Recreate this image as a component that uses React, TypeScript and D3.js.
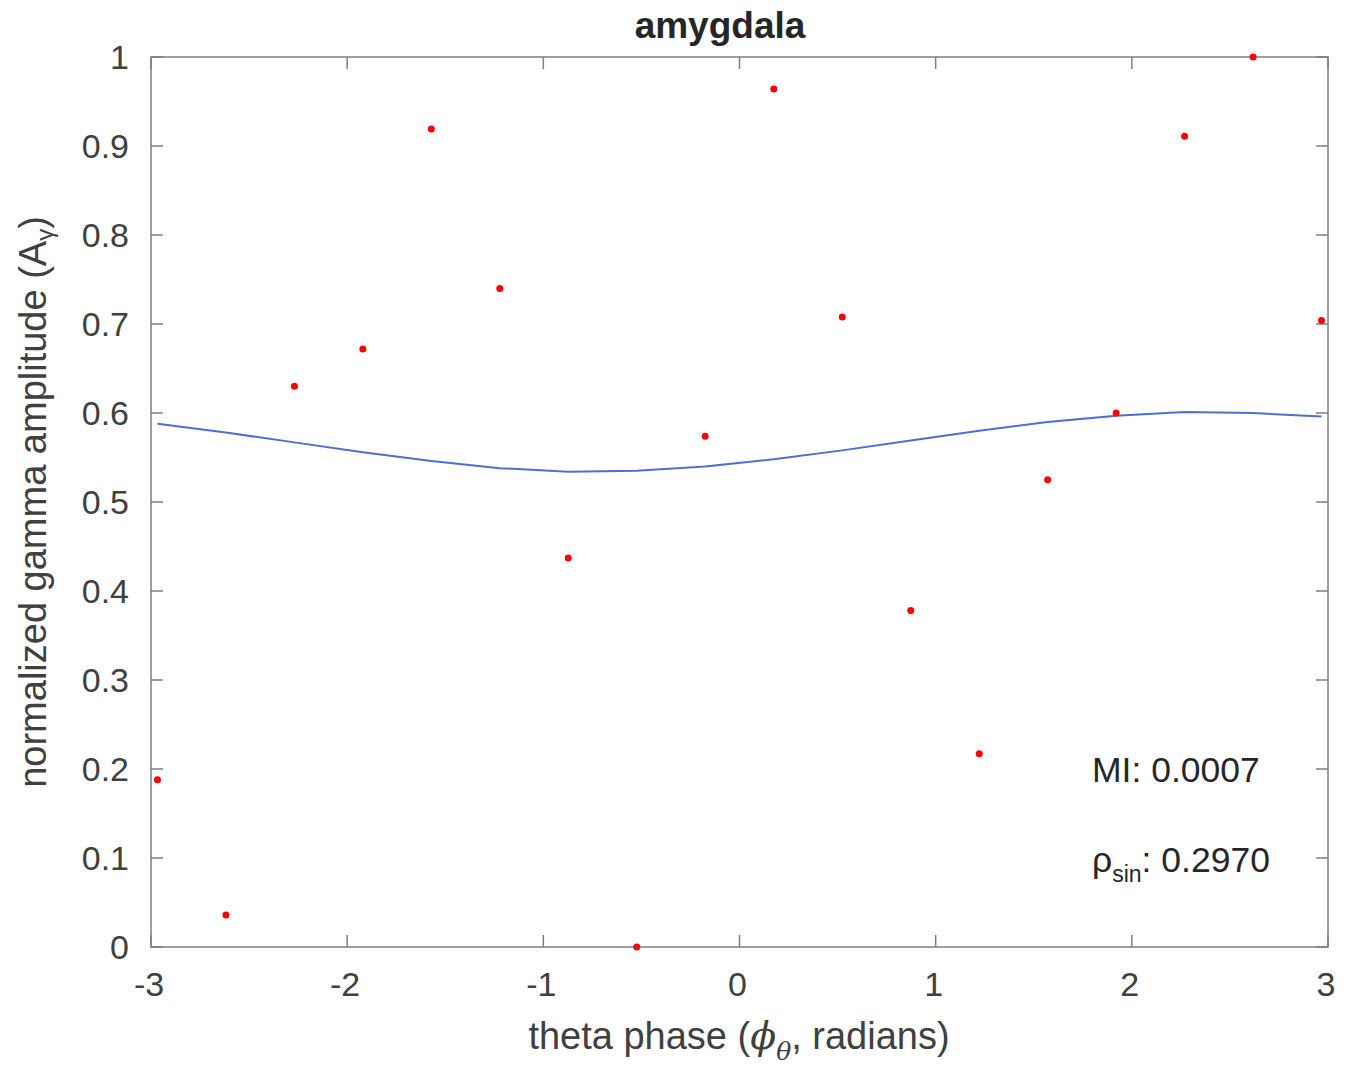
import React from "react";
import * as d3 from "d3";

const phases = [-2.967, -2.618, -2.269, -1.92, -1.571, -1.222, -0.873, -0.524, -0.175, 0.175, 0.524, 0.873, 1.222, 1.571, 1.92, 2.269, 2.618, 2.967];
const amplitudes = [0.188, 0.036, 0.63, 0.672, 0.919, 0.74, 0.437, 0.0, 0.574, 0.964, 0.708, 0.378, 0.217, 0.525, 0.6, 0.911, 1.0, 0.704];
const fitValues = [0.588, 0.578, 0.567, 0.556, 0.546, 0.538, 0.534, 0.535, 0.54, 0.548, 0.558, 0.569, 0.58, 0.59, 0.597, 0.601, 0.6, 0.596];
const xTicks = [-3, -2, -1, 0, 1, 2, 3];
const yTicks = [0, 0.1, 0.2, 0.3, 0.4, 0.5, 0.6, 0.7, 0.8, 0.9, 1];
const yTickLabels = ["0", "0.1", "0.2", "0.3", "0.4", "0.5", "0.6", "0.7", "0.8", "0.9", "1"];
const titleText = "amygdala";
const miText = "MI: 0.0007";
const rhoValue = ": 0.2970";

const W = 1353, H = 1070;
const L = 151, R = 1328, T = 57, B = 947;
const FONT = "'Liberation Sans', Arial, Helvetica, sans-serif";
const AX = "#7f7f7f";
const TXT = "#262626";
const TICK_TXT = "#404040";

export default function App() {
  const x = d3.scaleLinear().domain([-3, 3]).range([L, R]);
  const y = d3.scaleLinear().domain([0, 1]).range([B, T]);
  const line = d3.line<number>().x((_, i) => x(phases[i])).y((d) => y(d));
  const tl = 12;
  return (
    <div style={{ position: "absolute", left: 0, top: 0 }}>
      <svg width={W} height={H} style={{ display: "block", background: "#fff" }}>
        <rect x={0} y={0} width={W} height={H} fill="#fff" />
        {xTicks.map((t) => (
          <g key={"xt" + t}>
            <line x1={x(t)} x2={x(t)} y1={B} y2={B - tl} stroke={AX} strokeWidth={1.5} />
            <line x1={x(t)} x2={x(t)} y1={T} y2={T + tl} stroke={AX} strokeWidth={1.5} />
            <text x={x(t) - 2} y={996} textAnchor="middle" fontFamily={FONT} fontSize={34} fill={TICK_TXT}>{t}</text>
          </g>
        ))}
        {yTicks.map((t, i) => (
          <g key={"yt" + t}>
            <line x1={L} x2={L + tl} y1={y(t)} y2={y(t)} stroke={AX} strokeWidth={1.5} />
            <line x1={R} x2={R - tl} y1={y(t)} y2={y(t)} stroke={AX} strokeWidth={1.5} />
            <text x={129} y={y(t) + 12} textAnchor="end" fontFamily={FONT} fontSize={34} fill={TICK_TXT}>{yTickLabels[i]}</text>
          </g>
        ))}
        <rect x={L} y={T} width={R - L} height={B - T} fill="none" stroke={AX} strokeWidth={1.5} />
        <path d={line(fitValues) || ""} fill="none" stroke="#4f6fce" strokeWidth={2} />
        {amplitudes.map((a, i) => (
          <circle key={"p" + i} cx={x(phases[i])} cy={y(a)} r={3.5} fill="#ff0000" />
        ))}
        <text x={720} y={38} textAnchor="middle" fontFamily={FONT} fontSize={37} fontWeight="bold" fill={TXT}>{titleText}</text>
        <text x={1092} y={782} fontFamily={FONT} fontSize={35.5} fill={TXT}>{miText}</text>
        <text x={1092} y={872} fontFamily={FONT} fontSize={35.5} fill={TXT}>
          <tspan>ρ</tspan>
          <tspan fontSize={23} dy={10}>sin</tspan>
          <tspan dy={-10}>{rhoValue}</tspan>
        </text>
        <text x={739} y={1049} textAnchor="middle" fontFamily={FONT} fontSize={38} fill={TICK_TXT}>
          <tspan>theta phase (</tspan>
          <tspan fontFamily="'DejaVu Serif', serif" fontStyle="italic">ϕ</tspan>
          <tspan fontFamily="'DejaVu Serif', serif" fontStyle="italic" fontSize={25} dy={11}>θ</tspan>
          <tspan dy={-11}>, radians)</tspan>
        </text>
        <text transform={`translate(46,${502}) rotate(-90)`} textAnchor="middle" fontFamily={FONT} fontSize={38} fill={TICK_TXT}>
          <tspan>normalized gamma amplitude (A</tspan>
          <tspan fontSize={24} dy={7}>γ</tspan>
          <tspan dy={-7}>)</tspan>
        </text>
      </svg>
    </div>
  );
}
